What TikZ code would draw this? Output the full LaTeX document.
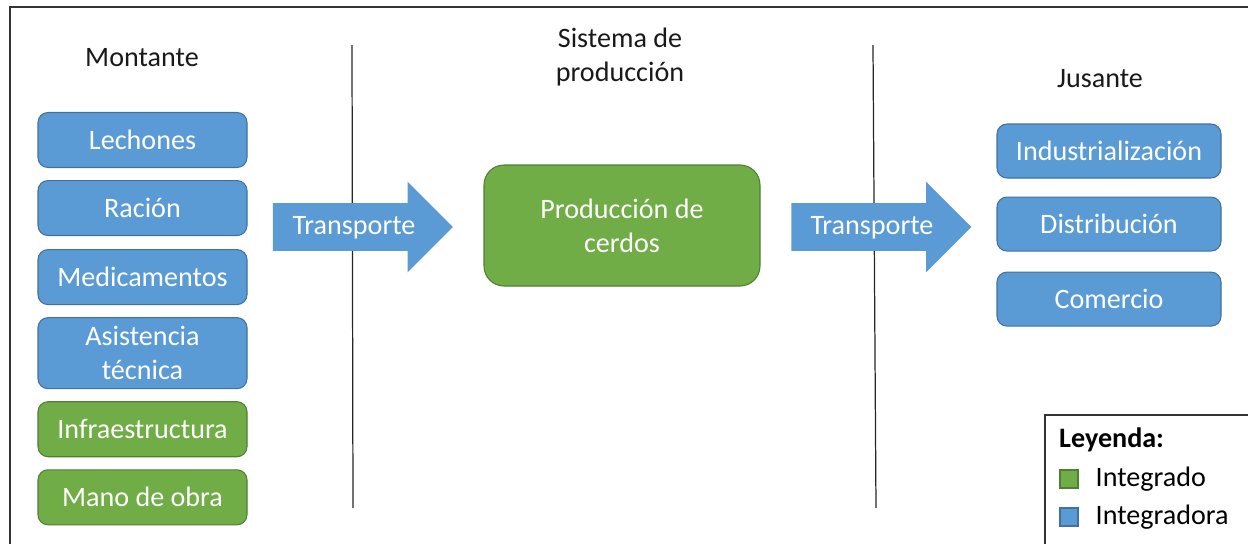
\documentclass[tikz,border=0pt]{standalone}
\usepackage{fontspec}
\setmainfont{Carlito}
\usetikzlibrary{positioning,shapes.arrows}
\definecolor{azul}{HTML}{5B9BD5}
\definecolor{azulb}{HTML}{41719C}
\definecolor{verde}{HTML}{70AD47}
\definecolor{verdeb}{HTML}{507E32}
\definecolor{marco}{HTML}{333333}

\begin{document}
\begin{tikzpicture}[font=\fontsize{16}{19.4}\selectfont, node distance=0.24cm,
    caja/.style={text=white,rounded corners=0.2cm,line width=0.6pt,align=center,inner sep=2pt},
    cajaazul/.style={caja,fill=azul,draw=azulb},
    cajaverde/.style={caja,fill=verde,draw=verdeb},
    montbox/.style={minimum width=4.18cm,minimum height=1.1cm},
    jusbox/.style={minimum width=4.48cm,minimum height=1.08cm},
    flecha/.style={single arrow,fill=azul,draw=none,minimum height=3.6cm,minimum width=1.8cm,
                   single arrow head extend=0.43cm,single arrow head indent=0cm,inner xsep=0pt,inner ysep=0.47cm},
    titulo/.style={text=black!90,align=center},
    cuadro/.style={minimum size=0.36cm,inner sep=0pt,line width=0.6pt}]
%
   \useasboundingbox (0,0) rectangle (24.96,-10.88);
   % marco exterior y leyenda
   \draw[marco,line width=1.2pt] (25.2,-0.14) -- (0.2,-0.14) -- (0.2,-11.2);
   \draw[marco,line width=1pt] (25.2,-8.3) -- (20.9,-8.3) -- (20.9,-11.2);
   % separadores
   \coordinate (S1a) at (7.04,-0.9);  \coordinate (S1b) at (7.06,-10.16);
   \coordinate (S2a) at (17.46,-0.9); \coordinate (S2b) at (17.52,-10.16);
   \draw[black!85,line width=0.7pt] (S1a) -- (S1b);
   \draw[black!85,line width=0.7pt] (S2a) -- (S2b);
   % titulos
   \node[titulo]  (TM) at (2.84,-1.16)  {Montante};
   \node[titulo]  (TS) at (12.4,-1.14)  {Sistema de\\producción};
   \node[titulo]  (TJ) at (22.0,-1.58)  {Jusante};
   % montante
   \node[cajaazul,montbox]  (M1) at (2.85,-2.8) {Lechones};
   \node[cajaazul,montbox]  (M2) [below=of M1] {Ración};
   \node[cajaazul,montbox]  (M3) [below=0.26cm of M2] {Medicamentos};
   \node[cajaazul,montbox,minimum height=1.42cm] (M4) [below=of M3] {Asistencia\\técnica};
   \node[cajaverde,montbox] (M5) [below=of M4] {Infraestructura};
   \node[cajaverde,montbox] (M6) [below=of M5] {Mano de obra};
   % produccion
   \node[cajaverde,rounded corners=0.4cm,minimum width=5.52cm,minimum height=2.42cm] (P) at (12.44,-4.51) {Producción de\\cerdos};
   % jusante
   \node[cajaazul,jusbox]   (J1) at (22.18,-3.02) {Industrialización};
   \node[cajaazul,jusbox]   (J2) [below=0.36cm of J1] {Distribución};
   \node[cajaazul,jusbox]   (J3) [below=0.40cm of J2] {Comercio};
   % transporte
   \node[flecha] (F1) at (7.02,-4.54) {};
   \node[flecha] (F2) at (17.39,-4.54) {};
   \node[text=white] (T1) at (7.08,-4.55)  {Transporte};
   \node[text=white] (T2) at (17.44,-4.55) {Transporte};
   % leyenda
   \node[anchor=west,font=\fontsize{16}{19.4}\selectfont\bfseries] (L) at (21.06,-8.8) {Leyenda:};
   \node[cuadro,fill=verde,draw=verdeb] (LV) at (21.38,-9.58) {};
   \node[cuadro,fill=azul,draw=azulb]   (LA) at (21.38,-10.34) {};
   \node[anchor=west] (LVt) [right=0.22cm of LV] {Integrado};
   \node[anchor=west] (LAt) [right=0.22cm of LA] {Integradora};
\end{tikzpicture}
\end{document}
